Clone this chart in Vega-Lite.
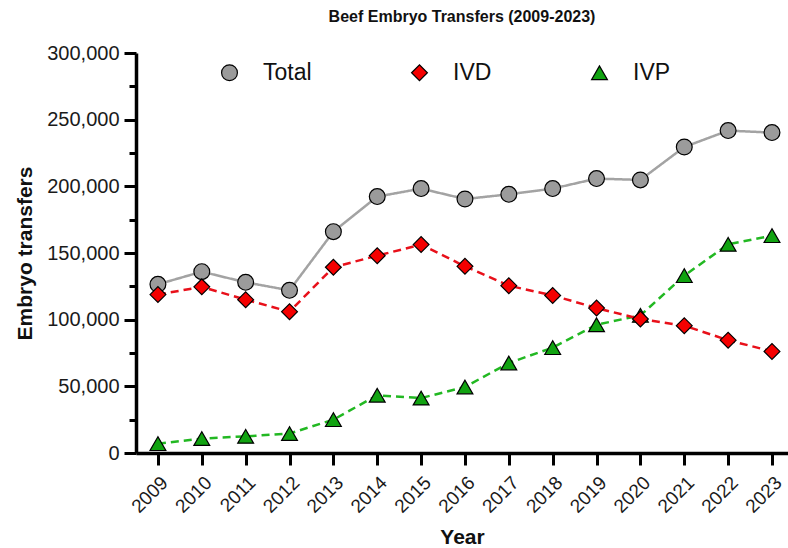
{
  "$schema": "https://vega.github.io/schema/vega-lite/v6.json",
  "autosize": {"type": "none"},
  "padding": {"left": 136, "top": 53, "right": 0, "bottom": 95},
  "width": 652,
  "height": 400,
  "background": "white",
  "title": {
    "text": "Beef Embryo Transfers (2009-2023)",
    "font": "Liberation Sans",
    "fontSize": 16,
    "fontWeight": "bold",
    "color": "#111111",
    "anchor": "middle",
    "offset": 18
  },
  "config": {
    "view": {"stroke": null},
    "font": "Liberation Sans"
  },
  "data": {
    "values": [
      {"year": 2009, "series": "Total", "value": 126500},
      {"year": 2010, "series": "Total", "value": 136000},
      {"year": 2011, "series": "Total", "value": 128000},
      {"year": 2012, "series": "Total", "value": 122000},
      {"year": 2013, "series": "Total", "value": 166000},
      {"year": 2014, "series": "Total", "value": 192300},
      {"year": 2015, "series": "Total", "value": 198300},
      {"year": 2016, "series": "Total", "value": 190500},
      {"year": 2017, "series": "Total", "value": 194000},
      {"year": 2018, "series": "Total", "value": 198300},
      {"year": 2019, "series": "Total", "value": 205800},
      {"year": 2020, "series": "Total", "value": 204800},
      {"year": 2021, "series": "Total", "value": 229500},
      {"year": 2022, "series": "Total", "value": 241800},
      {"year": 2023, "series": "Total", "value": 240300},
      {"year": 2009, "series": "IVP", "value": 7000},
      {"year": 2010, "series": "IVP", "value": 10800},
      {"year": 2011, "series": "IVP", "value": 12500},
      {"year": 2012, "series": "IVP", "value": 14600},
      {"year": 2013, "series": "IVP", "value": 25000},
      {"year": 2014, "series": "IVP", "value": 43300},
      {"year": 2015, "series": "IVP", "value": 41200},
      {"year": 2016, "series": "IVP", "value": 49500},
      {"year": 2017, "series": "IVP", "value": 67500},
      {"year": 2018, "series": "IVP", "value": 79000},
      {"year": 2019, "series": "IVP", "value": 96200},
      {"year": 2020, "series": "IVP", "value": 103200},
      {"year": 2021, "series": "IVP", "value": 133000},
      {"year": 2022, "series": "IVP", "value": 156500},
      {"year": 2023, "series": "IVP", "value": 163000},
      {"year": 2009, "series": "IVD", "value": 118800},
      {"year": 2010, "series": "IVD", "value": 124600},
      {"year": 2011, "series": "IVD", "value": 115000},
      {"year": 2012, "series": "IVD", "value": 106000},
      {"year": 2013, "series": "IVD", "value": 139300},
      {"year": 2014, "series": "IVD", "value": 148000},
      {"year": 2015, "series": "IVD", "value": 156300},
      {"year": 2016, "series": "IVD", "value": 140000},
      {"year": 2017, "series": "IVD", "value": 125500},
      {"year": 2018, "series": "IVD", "value": 118200},
      {"year": 2019, "series": "IVD", "value": 108700},
      {"year": 2020, "series": "IVD", "value": 100500},
      {"year": 2021, "series": "IVD", "value": 95500},
      {"year": 2022, "series": "IVD", "value": 84600},
      {"year": 2023, "series": "IVD", "value": 76200}
    ]
  },
  "resolve": {"axis": {"y": "independent"}},
  "layer": [
    {
      "mark": {"type": "line", "strokeWidth": 2.5},
      "encoding": {
        "x": {
          "field": "year",
          "type": "quantitative",
          "scale": {"domain": [2008.5, 2023.365], "nice": false, "zero": false},
          "axis": {
            "values": [2009, 2010, 2011, 2012, 2013, 2014, 2015, 2016, 2017, 2018, 2019, 2020, 2021, 2022, 2023],
            "format": "d",
            "grid": false,
            "labelAngle": -45,
            "labelFontSize": 19,
            "labelColor": "#1a1a1a",
            "labelFont": "Liberation Sans",
            "labelPadding": 8,
            "tickSize": 12,
            "tickWidth": 3,
            "tickColor": "black",
            "domainColor": "black",
            "domainWidth": 3.5,
            "title": "Year",
            "titleFont": "Liberation Sans",
            "titleFontSize": 21,
            "titleFontWeight": "bold",
            "titleColor": "#111111",
            "titleBaseline": "middle",
            "titleY": 84
          }
        },
        "y": {
          "field": "value",
          "type": "quantitative",
          "scale": {"domain": [0, 300000], "nice": false},
          "axis": {
            "orient": "left",
            "values": [0, 50000, 100000, 150000, 200000, 250000, 300000],
            "format": ",d",
            "grid": false,
            "labelFontSize": 20,
            "labelColor": "#1a1a1a",
            "labelFont": "Liberation Sans",
            "labelPadding": 5,
            "tickSize": 12,
            "tickWidth": 3,
            "tickColor": "black",
            "domainColor": "black",
            "domainWidth": 3.5,
            "title": "Embryo transfers",
            "titleFont": "Liberation Sans",
            "titleFontSize": 21,
            "titleFontWeight": "bold",
            "titleColor": "#111111",
            "titleX": -101
          }
        },
        "detail": {"field": "series", "type": "nominal"},
        "stroke": {
          "field": "series",
          "type": "nominal",
          "scale": {"domain": ["IVD", "IVP", "Total"], "range": ["#e8101a", "#22b822", "#a3a3a3"]},
          "legend": null
        },
        "strokeDash": {
          "field": "series",
          "type": "nominal",
          "scale": {"domain": ["IVD", "IVP", "Total"], "range": [[8, 5], [8, 5], [1, 0]]},
          "legend": null
        }
      }
    },
    {
      "mark": {"type": "point", "filled": true, "stroke": "black", "strokeWidth": 1.2, "opacity": 1, "size": 250},
      "encoding": {
        "x": {"field": "year", "type": "quantitative"},
        "y": {
          "field": "value",
          "type": "quantitative",
          "axis": {
            "orient": "left",
            "values": [25000, 75000, 125000, 175000, 225000, 275000],
            "labels": false,
            "domain": false,
            "grid": false,
            "tickSize": 7,
            "tickWidth": 3,
            "tickColor": "black",
            "title": null
          }
        },
        "color": {
          "field": "series",
          "type": "nominal",
          "scale": {"domain": ["Total", "IVD", "IVP"], "range": ["#9b9b9b", "#f50000", "#11a311"]},
          "legend": {
            "title": null,
            "orient": "none",
            "legendX": 82,
            "legendY": 8,
            "direction": "horizontal",
            "columns": 3,
            "columnPadding": 96,
            "symbolSize": 250,
            "symbolStrokeColor": "black",
            "symbolStrokeWidth": 1.2,
            "labelFontSize": 23,
            "labelFont": "Liberation Sans",
            "labelColor": "#111111",
            "labelOffset": 22
          }
        },
        "shape": {
          "field": "series",
          "type": "nominal",
          "scale": {"domain": ["Total", "IVD", "IVP"], "range": ["circle", "diamond", "triangle-up"]}
        }
      }
    }
  ]
}
